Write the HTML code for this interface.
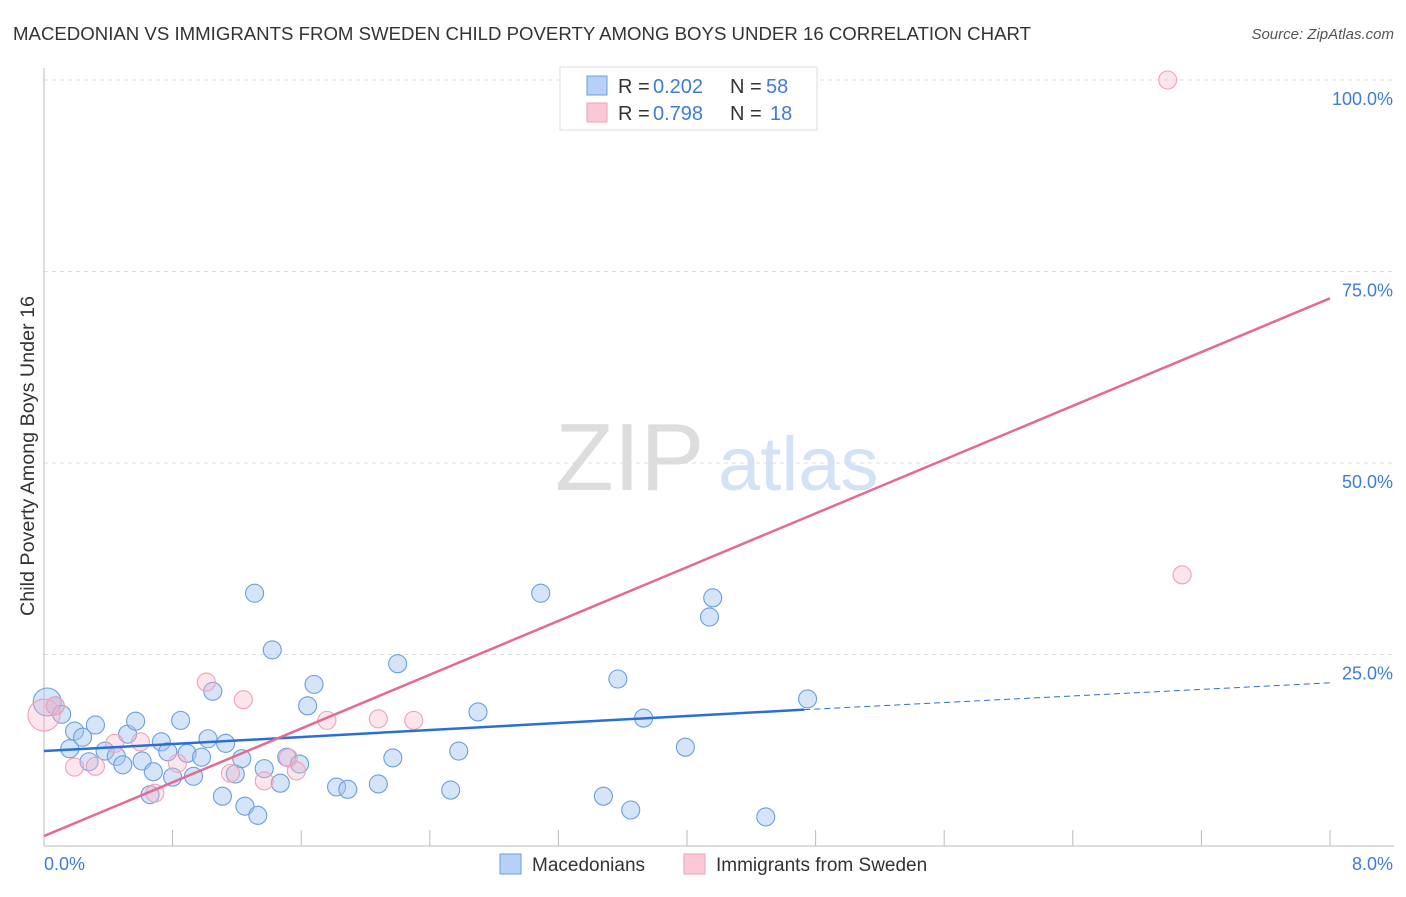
<!DOCTYPE html>
<html><head><meta charset="utf-8"><style>
body{margin:0;background:#fff;font-family:"Liberation Sans",sans-serif;}
svg text{font-family:"Liberation Sans",sans-serif;}
</style></head><body>
<svg id="chart" width="1406" height="892" xmlns="http://www.w3.org/2000/svg">
<text x="13" y="40" font-size="18" fill="#333" textLength="1018" lengthAdjust="spacingAndGlyphs">MACEDONIAN VS IMMIGRANTS FROM SWEDEN CHILD POVERTY AMONG BOYS UNDER 16 CORRELATION CHART</text>
<text x="1394" y="39" font-size="15" fill="#555" text-anchor="end" font-style="italic">Source: ZipAtlas.com</text>
<g>
<text x="555" y="490" font-size="96" fill="#ddd" font-family="Liberation Serif">ZIP</text>
<text x="718" y="490" font-size="76" fill="#d3e2f5">atlas</text></g>
<g id="grid"></g>
<g id="axes"></g>
<g id="marks"></g>
<text transform="translate(34,456) rotate(-90)" font-size="19" fill="#333" text-anchor="middle" textLength="320" lengthAdjust="spacingAndGlyphs">Child Poverty Among Boys Under 16</text>
<g>
<rect x="560" y="67" width="257" height="63" fill="#fff" stroke="#ddd"/>
<rect x="587" y="76" width="20" height="19" fill="#b7d0f5" stroke="#6a9ee0"/>
<text x="618" y="93" font-size="20" fill="#333">R =</text>
<text x="653" y="93" font-size="20" fill="#3d7dd8">0.202</text>
<text x="730" y="93" font-size="20" fill="#333">N =</text>
<text x="766" y="93" font-size="20" fill="#3d7dd8">58</text>
<rect x="587" y="103" width="20" height="19" fill="#fac8d6" stroke="#f0a0b8"/>
<text x="618" y="120" font-size="20" fill="#333">R =</text>
<text x="653" y="120" font-size="20" fill="#3d7dd8">0.798</text>
<text x="730" y="120" font-size="20" fill="#333">N =</text>
<text x="770" y="120" font-size="20" fill="#3d7dd8">18</text>
</g>
<g>
<rect x="500" y="854" width="21" height="20" fill="#b7d0f5" stroke="#6a9ee0"/>
<text x="532" y="871" font-size="19" fill="#333">Macedonians</text>
<rect x="684" y="854" width="21" height="20" fill="#fac8d6" stroke="#f0a0b8"/>
<text x="716" y="871" font-size="19" fill="#333">Immigrants from Sweden</text>
</g>
</svg>
<script>
const yTicks=[25,50,75,100];
const yTickLabels=["25.0%","50.0%","75.0%","100.0%"];
const xTickLabels=["0.0%","8.0%"];
const blueX=[0.02,0.07,0.11,0.16,0.19,0.24,0.32,0.28,0.38,0.45,0.49,0.52,0.57,0.61,0.66,0.68,0.73,0.77,0.80,0.85,0.89,0.93,0.98,1.02,1.05,1.11,1.13,1.19,1.23,1.25,1.31,1.33,1.37,1.42,1.47,1.51,1.59,1.64,1.68,1.82,1.89,2.08,2.17,2.20,2.53,2.58,2.70,3.09,3.48,3.57,3.65,3.73,3.99,4.14,4.16,4.49,4.75];
const blueY=[18.8,18.3,17.2,12.7,15.0,14.2,15.8,11.0,12.4,11.7,10.6,14.6,16.3,11.1,6.7,9.7,13.6,12.3,9.0,16.4,12.1,9.1,11.6,14.0,20.2,6.5,13.4,9.4,11.4,5.2,33.0,4.0,10.1,25.6,8.2,11.6,10.7,18.3,21.1,7.7,7.4,8.1,11.5,23.8,7.3,12.4,17.5,33.0,6.5,21.8,4.7,16.7,12.9,29.9,32.4,3.8,19.2];
const pinkX=[0.0,0.07,0.19,0.32,0.44,0.60,0.69,0.83,1.01,1.16,1.24,1.37,1.52,1.57,1.76,2.08,2.30,6.99,7.08];
const pinkY=[17.1,18.3,10.3,10.4,13.4,13.6,6.9,10.8,21.4,9.5,19.1,8.5,11.5,9.8,16.4,16.6,16.4,100,35.4];
const blueTrend=[12.4,17.8,21.3]; // at x=0, 4.73, 8
const pinkTrend=[1.3,71.5]; // at x=0, 8
const X=v=>44+v*160.75, Y=v=>846-v*7.66;
const NS="http://www.w3.org/2000/svg";
function mk(p,t,a){const e=document.createElementNS(NS,t);for(const k in a)e.setAttribute(k,a[k]);p.appendChild(e);return e;}
const g=document.getElementById('grid'),ax=document.getElementById('axes'),m=document.getElementById('marks');
yTicks.forEach((t,i)=>{
 const l=mk(g,'line',{x1:44,x2:1394,y1:Y(t),y2:Y(t),stroke:'#ddd','stroke-dasharray':'4,4'});
 
 
 const tx=mk(ax,'text',{x:1393,y:Y(t)+25,'font-size':18,fill:'#3d7dd8','text-anchor':'end'});
 tx.textContent=yTickLabels[i];
 
 
});
mk(ax,'line',{x1:44,x2:44,y1:68,y2:846,stroke:'#bbb'});
mk(ax,'line',{x1:44,x2:1394,y1:846,y2:846,stroke:'#bbb'});
for(let i=0;i<=10;i++){mk(ax,'line',{x1:X(i*0.8),x2:X(i*0.8),y1:830,y2:846,stroke:'#bbb'});}
const xl0=mk(ax,'text',{x:44,y:870,'font-size':18,fill:'#3d7dd8'});xl0.textContent=xTickLabels[0];


const xl1=mk(ax,'text',{x:1393,y:870,'font-size':18,fill:'#3d7dd8','text-anchor':'end'});xl1.textContent=xTickLabels[1];


blueX.forEach((x,i)=>{
 const c=mk(m,'circle',{cx:X(x),cy:Y(blueY[i]),r:i==0?14:9,fill:'rgba(164,196,240,0.45)',stroke:'#6a9ee0','stroke-width':1.1});
 
 
});
pinkX.forEach((x,i)=>{
 const c=mk(m,'circle',{cx:X(x),cy:Y(pinkY[i]),r:i==0?16:9,fill:'rgba(248,180,200,0.35)',stroke:'#f0a0b8','stroke-width':1.1});
 
 
});
const bl=mk(m,'line',{x1:X(0),y1:Y(blueTrend[0]),x2:X(4.73),y2:Y(blueTrend[1]),stroke:'#2a6fd6','stroke-width':2.5});


const bd=mk(m,'line',{x1:X(4.73),y1:Y(blueTrend[1]),x2:X(8),y2:Y(blueTrend[2]),stroke:'#2a6fd6','stroke-width':1,'stroke-dasharray':'6,4'});


const pl=mk(m,'line',{x1:X(0),y1:Y(pinkTrend[0]),x2:X(8),y2:Y(pinkTrend[1]),stroke:'#e46a94','stroke-width':2.5});


</script>
</body></html>
